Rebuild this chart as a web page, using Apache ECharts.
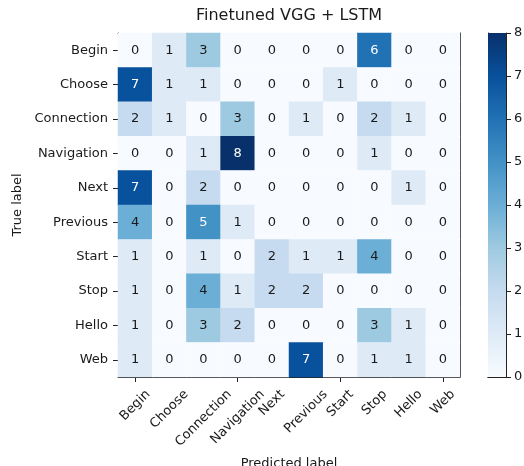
<!DOCTYPE html>
<html>
<head>
<meta charset="utf-8">
<script src="https://cdn.jsdelivr.net/npm/echarts@6/dist/echarts.min.js"></script>
<style>html,body{margin:0;padding:0;background:#fff;}#chart{width:524px;height:466px;}</style>
</head>
<body>
<div id="chart"></div>
<script>
const predictedLabels = ['Begin','Choose','Connection','Navigation','Next','Previous','Start','Stop','Hello','Web'];
const trueLabels = ['Begin','Choose','Connection','Navigation','Next','Previous','Start','Stop','Hello','Web'];
const rowBegin      = [0,1,3,0,0,0,0,6,0,0];
const rowChoose     = [7,1,1,0,0,0,1,0,0,0];
const rowConnection = [2,1,0,3,0,1,0,2,1,0];
const rowNavigation = [0,0,1,8,0,0,0,1,0,0];
const rowNext       = [7,0,2,0,0,0,0,0,1,0];
const rowPrevious   = [4,0,5,1,0,0,0,0,0,0];
const rowStart      = [1,0,1,0,2,1,1,4,0,0];
const rowStop       = [1,0,4,1,2,2,0,0,0,0];
const rowHello      = [1,0,3,2,0,0,0,3,1,0];
const rowWeb        = [1,0,0,0,0,7,0,1,1,0];
const colorbarTicks = [0,1,2,3,4,5,6,7,8];
const blues = ['#f7fbff','#deebf7','#c6dbef','#9ecae1','#6baed6','#4292c6','#2171b5','#08519c','#08306b'];

const rows = [rowBegin,rowChoose,rowConnection,rowNavigation,rowNext,rowPrevious,rowStart,rowStop,rowHello,rowWeb];
const vmin = colorbarTicks[0], vmax = colorbarTicks[colorbarTicks.length-1];
const thresh = vmax / 2;
const data = [];
rows.forEach((r, i) => r.forEach((v, j) => {
  data.push({value: [j, i, v], label: {color: v > thresh ? '#ffffff' : '#1a1a1a'}});
}));

const FONT = 'DejaVu Sans';
const TXT = '#1a1a1a';
const LINE = '#222';

const gradStops = blues.map((c, i) => ({offset: 1 - i / (blues.length - 1), color: c})).reverse();

const chart = echarts.init(document.getElementById('chart'));
chart.setOption({
  animation: false,
  backgroundColor: '#fff',
  title: {
    text: 'Finetuned VGG + LSTM', left: 289, top: 8, textAlign: 'center', padding: 0,
    textStyle: {fontFamily: FONT, fontSize: 16, fontWeight: 'normal', color: TXT}
  },
  grid: [
    {left: 118, top: 33, width: 342, height: 344, outerBoundsMode: 'none', containLabel: false},
    {left: 488, top: 33, width: 18, height: 344, outerBoundsMode: 'none', containLabel: false}
  ],
  visualMap: {
    show: false, type: 'continuous', min: vmin, max: vmax, seriesIndex: 0,
    inRange: {color: blues}
  },
  xAxis: [
    {type: 'category', gridIndex: 0, data: predictedLabels, position: 'bottom',
     name: 'Predicted label', nameLocation: 'middle', nameGap: 87, nameMoveOverlap: false,
     nameTextStyle: {fontFamily: FONT, fontSize: 13, color: TXT, verticalAlign: 'middle'},
     axisLine: {show: true, lineStyle: {color: LINE, width: 1}},
     axisTick: {show: true, alignWithLabel: true, length: 5, lineStyle: {color: LINE}},
     axisLabel: {show: false},
     splitLine: {show: false}},
    {type: 'category', gridIndex: 0, data: predictedLabels, position: 'top',
     axisLine: {show: true, lineStyle: {color: LINE, width: 1}},
     axisTick: {show: false}, axisLabel: {show: false}, splitLine: {show: false}},
    {type: 'category', gridIndex: 1, data: ['cb'], position: 'bottom',
     axisLine: {show: true, lineStyle: {color: LINE, width: 1}},
     axisTick: {show: false}, axisLabel: {show: false}, splitLine: {show: false}},
    {type: 'category', gridIndex: 1, data: ['cb'], position: 'top',
     axisLine: {show: true, lineStyle: {color: LINE, width: 1}},
     axisTick: {show: false}, axisLabel: {show: false}, splitLine: {show: false}}
  ],
  yAxis: [
    {type: 'category', gridIndex: 0, data: trueLabels, inverse: true, position: 'left',
     name: 'True label', nameLocation: 'middle', nameGap: 100, nameMoveOverlap: false,
     nameTextStyle: {fontFamily: FONT, fontSize: 13, color: TXT, verticalAlign: 'middle'},
     axisLine: {show: true, lineStyle: {color: LINE, width: 1}},
     axisTick: {show: true, alignWithLabel: true, length: 5, lineStyle: {color: LINE}},
     axisLabel: {interval: 0, margin: 10, fontFamily: FONT, fontSize: 13, color: TXT},
     splitLine: {show: false}},
    {type: 'category', gridIndex: 0, data: trueLabels, inverse: true, position: 'right',
     axisLine: {show: true, lineStyle: {color: LINE, width: 1}},
     axisTick: {show: false}, axisLabel: {show: false}, splitLine: {show: false}},
    {type: 'value', gridIndex: 1, min: vmin, max: vmax, interval: 1, position: 'right',
     axisLine: {show: true, lineStyle: {color: LINE, width: 1}},
     axisTick: {show: true, length: 5, lineStyle: {color: LINE}},
     axisLabel: {margin: 8, fontFamily: FONT, fontSize: 13, color: TXT},
     splitLine: {show: false}},
    {type: 'value', gridIndex: 1, min: vmin, max: vmax, interval: 1, position: 'left',
     axisLine: {show: true, lineStyle: {color: LINE, width: 1}},
     axisTick: {show: false}, axisLabel: {show: false}, splitLine: {show: false}}
  ],
  series: [
    {type: 'heatmap', xAxisIndex: 0, yAxisIndex: 0, data: data,
     label: {show: true, fontFamily: FONT, fontSize: 13},
     itemStyle: {borderWidth: 0},
     emphasis: {disabled: true}},
    {type: 'bar', xAxisIndex: 2, yAxisIndex: 2, data: [vmax], barWidth: '100%',
     itemStyle: {color: new echarts.graphic.LinearGradient(0, 0, 0, 1, gradStops)},
     silent: true}
  ]
});

// x tick labels, rotated 45° and centred under each tick (matplotlib style)
const ctx = document.createElement('canvas').getContext('2d');
ctx.font = '13px "' + FONT + '"';
const n = trueLabels.length;
const yLast = chart.convertToPixel({yAxisIndex: 0}, trueLabels[n - 1]);
const yPrev = chart.convertToPixel({yAxisIndex: 0}, trueLabels[n - 2]);
const axisY = yLast + (yLast - yPrev) / 2;
const texts = predictedLabels.map((name) => {
  const x = chart.convertToPixel({xAxisIndex: 0}, name);
  const w = ctx.measureText(name).width;
  const y = axisY + 10 + 0.354 * (w + 15);
  return {
    type: 'text', x: x, y: y, rotation: Math.PI / 4, silent: true,
    style: {text: name, fontFamily: FONT, fontSize: 13, fill: TXT, align: 'center', verticalAlign: 'middle'}
  };
});
chart.setOption({graphic: {elements: texts}});
</script>
</body>
</html>
